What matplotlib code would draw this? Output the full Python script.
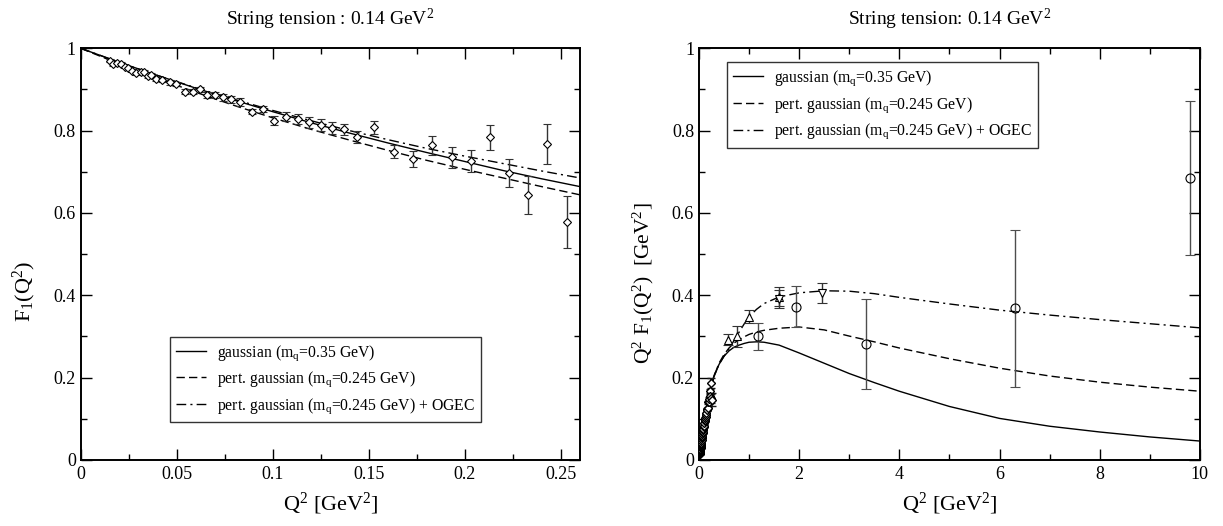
import numpy as np
import matplotlib
matplotlib.use("Agg")
import matplotlib.pyplot as plt
from matplotlib.ticker import MultipleLocator, FormatStrFormatter
from matplotlib.lines import Line2D

plt.rcParams['font.family'] = ['Liberation Serif', 'DejaVu Serif']
plt.rcParams['mathtext.fontset'] = 'custom'
plt.rcParams['mathtext.rm'] = 'Liberation Serif'
plt.rcParams['mathtext.it'] = 'Liberation Serif:italic'

# ---------------- data: left panel (F1 vs Q^2) ----------------
lq2 = [0.0151, 0.0168, 0.0191, 0.0208, 0.0229, 0.0246, 0.0269, 0.0290, 0.0312, 0.0330,
       0.0350, 0.0368, 0.0394, 0.0425, 0.0463, 0.0498, 0.0541, 0.0585, 0.0620, 0.0658,
       0.0698, 0.0741, 0.0781, 0.0831, 0.0891, 0.0948, 0.1007, 0.1069, 0.1133, 0.1191,
       0.1250, 0.1309, 0.1371, 0.1441, 0.1529, 0.1632, 0.1731, 0.1831, 0.1932, 0.2031,
       0.2132, 0.2232, 0.2331, 0.2430, 0.2530]
lf1 = [0.970, 0.962, 0.965, 0.962, 0.955, 0.951, 0.946, 0.939, 0.942, 0.943,
       0.933, 0.935, 0.925, 0.923, 0.917, 0.913, 0.895, 0.895, 0.900, 0.887,
       0.887, 0.881, 0.876, 0.870, 0.846, 0.853, 0.824, 0.834, 0.828, 0.820,
       0.814, 0.806, 0.803, 0.784, 0.808, 0.749, 0.731, 0.764, 0.735, 0.726,
       0.784, 0.697, 0.644, 0.768, 0.577]
lerr = [0.004, 0.004, 0.004, 0.004, 0.004, 0.004, 0.004, 0.004, 0.004, 0.004,
        0.004, 0.004, 0.005, 0.005, 0.005, 0.005, 0.006, 0.006, 0.006, 0.007,
        0.007, 0.008, 0.008, 0.009, 0.006, 0.007, 0.011, 0.011, 0.012, 0.013,
        0.014, 0.015, 0.014, 0.015, 0.015, 0.016, 0.019, 0.022, 0.025, 0.027,
        0.030, 0.035, 0.046, 0.048, 0.063]

# theory curves, left panel
lc_x = [0.0, 0.02, 0.04, 0.06, 0.08, 0.10, 0.12, 0.14, 0.16, 0.18, 0.20, 0.22, 0.24, 0.26]
lc_gauss = [1.0, 0.966, 0.934, 0.903, 0.874, 0.846, 0.819, 0.794, 0.770, 0.747, 0.725, 0.703, 0.683, 0.664]
lc_pert = [1.0, 0.962, 0.927, 0.893, 0.861, 0.831, 0.803, 0.777, 0.752, 0.728, 0.706, 0.685, 0.664, 0.644]
lc_ogec = [1.0, 0.966, 0.934, 0.904, 0.876, 0.849, 0.824, 0.800, 0.778, 0.757, 0.738, 0.720, 0.702, 0.685]

# ---------------- data: right panel (Q^2 F1 vs Q^2) ----------------
r_up_x = [0.585, 0.75, 1.0, 1.6]
r_up_y = [0.292, 0.300, 0.348, 0.397]
r_up_e = [0.0135, 0.025, 0.016, 0.022]
r_dn_x = [1.6, 2.45]
r_dn_y = [0.390, 0.406]
r_dn_e = [0.022, 0.024]
r_ci_x = [1.17, 1.93, 3.33, 6.31, 9.80]
r_ci_y = [0.300, 0.372, 0.282, 0.368, 0.684]
r_ci_e = [0.032, 0.050, 0.110, 0.190, 0.187]

rc_x = [0.0, 0.1, 0.2, 0.3, 0.4, 0.5, 0.6, 0.7, 0.8, 0.9, 1.0, 1.15, 1.3, 1.6, 2.0,
        2.5, 3.0, 3.5, 4.0, 5.0, 6.0, 7.0, 8.0, 9.0, 10.0]
rc_gauss = [0.0, 0.090, 0.158, 0.202, 0.232, 0.252, 0.265, 0.274, 0.279, 0.283, 0.286, 0.287, 0.286,
            0.279, 0.260, 0.235, 0.210, 0.188, 0.167, 0.130, 0.101, 0.082, 0.068, 0.056, 0.046]
rc_pert = [0.0, 0.090, 0.158, 0.203, 0.235, 0.256, 0.272, 0.284, 0.292, 0.299, 0.305, 0.311, 0.315,
           0.320, 0.323, 0.316, 0.301, 0.287, 0.272, 0.246, 0.223, 0.204, 0.189, 0.177, 0.167]
rc_ogec = [0.0, 0.090, 0.160, 0.205, 0.232, 0.252, 0.270, 0.290, 0.310, 0.330, 0.348, 0.366, 0.380,
           0.396, 0.406, 0.411, 0.410, 0.404, 0.395, 0.379, 0.364, 0.352, 0.341, 0.331, 0.321]

labels = [r'gaussian (m$_\mathrm{q}$=0.35 GeV)',
          r'pert. gaussian (m$_\mathrm{q}$=0.245 GeV)',
          r'pert. gaussian (m$_\mathrm{q}$=0.245 GeV) + OGEC']

styles = [dict(ls='-'), dict(ls=(0, (6, 3))), dict(ls=(0, (7, 3, 1.5, 3)))]
LW = 1.0

fig = plt.figure(figsize=(12.23, 5.26), dpi=100)
axL = fig.add_axes([0.066, 0.1255, 0.4083, 0.7827])
axR = fig.add_axes([0.5715, 0.1255, 0.4096, 0.7827])


def style_axes(ax):
    for s in ax.spines.values():
        s.set_linewidth(1.4)
    ax.tick_params(which='both', direction='in', top=True, right=True, labelsize=13, width=1.0)
    ax.tick_params(which='major', length=8)
    ax.tick_params(which='minor', length=4.5)
    ax.tick_params(axis='x', pad=4)


def add_legend(ax, handles, loc, anchor):
    leg = ax.legend(handles, labels, loc=loc, bbox_to_anchor=anchor,
                    fontsize=11.3, frameon=True, fancybox=False, edgecolor='black',
                    handlelength=1.9, borderaxespad=0, labelspacing=0.45, handletextpad=0.7,
                    borderpad=0.4)
    leg.get_frame().set_linewidth(1.0)
    return leg


handles = [Line2D([], [], color='black', lw=LW, **st) for st in styles]

# left panel
for ys, st in zip([lc_gauss, lc_pert, lc_ogec], styles):
    axL.plot(lc_x, ys, color='black', lw=LW, **st)
axL.errorbar(lq2, lf1, yerr=lerr, fmt='D', ms=4.5, mfc='white', mec='black', mew=0.8,
             ecolor='0.2', elinewidth=1.0, capsize=3, capthick=1.0, zorder=3)
axL.set_xlim(0, 0.26)
axL.set_ylim(0, 1)
axL.xaxis.set_major_locator(MultipleLocator(0.05))
axL.xaxis.set_minor_locator(MultipleLocator(0.025))
axL.yaxis.set_major_locator(MultipleLocator(0.2))
axL.yaxis.set_minor_locator(MultipleLocator(0.1))
axL.xaxis.set_major_formatter(FormatStrFormatter('%g'))
axL.yaxis.set_major_formatter(FormatStrFormatter('%g'))
style_axes(axL)
axL.set_xlabel(r'Q$^2$ [GeV$^2$]', fontsize=16, labelpad=6)
axL.set_ylabel(r'F$_1$(Q$^2$)', fontsize=16)
axL.yaxis.set_label_coords(-0.085, 0.41)
axL.set_title(r'String tension : 0.14 GeV$^2$', fontsize=14, pad=17)
add_legend(axL, handles, 'lower left', (0.179, 0.092))

# right panel
for ys, st in zip([rc_gauss, rc_pert, rc_ogec], styles):
    axR.plot(rc_x, ys, color='black', lw=LW, **st)
lq2a = np.array(lq2)
axR.errorbar(lq2a, lq2a * np.array(lf1), yerr=lq2a * np.array(lerr), fmt='D', ms=4.5,
             mfc='white', mec='black', mew=1.0, ecolor='0.1', elinewidth=1.2,
             capsize=3, capthick=1.0, zorder=3)
axR.errorbar(r_up_x, r_up_y, yerr=r_up_e, fmt='^', ms=6, mfc='white', mec='black', mew=0.8,
             ecolor='0.2', elinewidth=1.0, capsize=3.5, capthick=1.0, zorder=3)
axR.errorbar(r_dn_x, r_dn_y, yerr=r_dn_e, fmt='v', ms=6, mfc='white', mec='black', mew=0.8,
             ecolor='0.2', elinewidth=1.0, capsize=3.5, capthick=1.0, zorder=3)
axR.errorbar(r_ci_x, r_ci_y, yerr=r_ci_e, fmt='o', ms=6.5, mfc='none', mec='black', mew=0.8,
             ecolor='0.3', elinewidth=1.0, capsize=3.5, capthick=1.0, zorder=3)
axR.set_xlim(0, 10)
axR.set_ylim(0, 1)
axR.xaxis.set_major_locator(MultipleLocator(2))
axR.xaxis.set_minor_locator(MultipleLocator(1))
axR.yaxis.set_major_locator(MultipleLocator(0.2))
axR.yaxis.set_minor_locator(MultipleLocator(0.1))
axR.xaxis.set_major_formatter(FormatStrFormatter('%g'))
axR.yaxis.set_major_formatter(FormatStrFormatter('%g'))
style_axes(axR)
axR.set_xlabel(r'Q$^2$ [GeV$^2$]', fontsize=16, labelpad=6)
axR.set_ylabel(r'Q$^2$ F$_1$(Q$^2$)  [GeV$^2$]', fontsize=15.5)
axR.yaxis.set_label_coords(-0.085, 0.43)
axR.set_title(r'String tension: 0.14 GeV$^2$', fontsize=14, pad=17)
add_legend(axR, handles, 'upper left', (0.056, 0.966))

fig.savefig('out.png', dpi=100)
